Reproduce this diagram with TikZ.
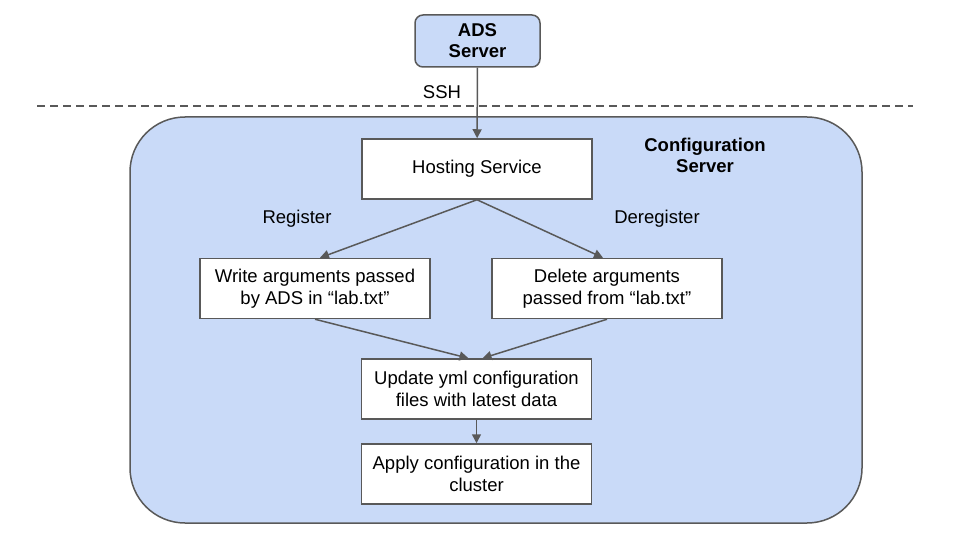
\documentclass[tikz,border=0pt]{standalone}
\usepackage{fontspec}
\setmainfont{Liberation Sans}
\usetikzlibrary{arrows.meta}
\definecolor{boxblue}{HTML}{C9DAF8}
\definecolor{edgegray}{HTML}{595959}
\tikzset{
  stepbox/.style={draw=edgegray, fill=white, line width=1.5pt, minimum width=230pt,
    minimum height=60pt, align=center, inner sep=0pt, font=\fontsize{18.5}{22}\selectfont},
  flow/.style={draw=edgegray, line width=1.5pt, -{Triangle[length=9pt,width=9pt]}},
  lbl/.style={font=\fontsize{18.5}{21}\selectfont}
}
\begin{document}
\begin{tikzpicture}[x=1pt,y=-1pt]
                    \useasboundingbox (0,0) rectangle (960,540);

                    \draw[edgegray, line width=1.5pt, dash pattern=on 8pt off 5pt] (37,106) -- (913,106);

                    \node[draw=edgegray, fill=boxblue, line width=1.5pt, rounded corners=55pt,
                      minimum width=732pt, minimum height=406pt] (cfg) at (496,320) {};
                    \node[lbl, font=\fontsize{18.5}{21}\selectfont\bfseries, align=center] (cfgtitle) at (705,155) {Configuration\\Server};

                    \node[draw=edgegray, fill=boxblue, line width=1.5pt, rounded corners=8pt,
                      minimum width=125pt, minimum height=52pt, inner sep=0pt, align=center,
                      font=\fontsize{18.5}{21}\selectfont\bfseries] (ads) at (477.5,41) {ADS\\Server};
                    \node[lbl] (ssh) at (442,92) {SSH};

                    \node[stepbox] (host) at (477,169) {Hosting Service};
                    \node[lbl] (reg) at (297,219) {Register};
                    \node[lbl] (dereg) at (657,219) {Deregister};

                    \node[stepbox] (write) at (315,288.5) {Write arguments passed\\by ADS in “lab.txt”};
                    \node[stepbox] (delete) at (607,288.5) {Delete arguments\\passed from “lab.txt”};
                    \node[stepbox] (update) at (476.5,389) {Update yml configuration\\files with latest data};
                    \node[stepbox] (apply) at (476.5,474) {Apply configuration in the\\cluster};

                    \draw[flow] (ads) -- (host);
                    \draw[flow] (host.south) -- ([xshift=5pt]write.north);
                    \draw[flow] (host.south) -- ([xshift=-4pt]delete.north);
                    \draw[flow] (write.south) -- ([xshift=-8pt]update.north);
                    \draw[flow] (delete.south) -- ([xshift=6pt]update.north);
                    \draw[flow] (update) -- (apply);

\end{tikzpicture}
\end{document}
